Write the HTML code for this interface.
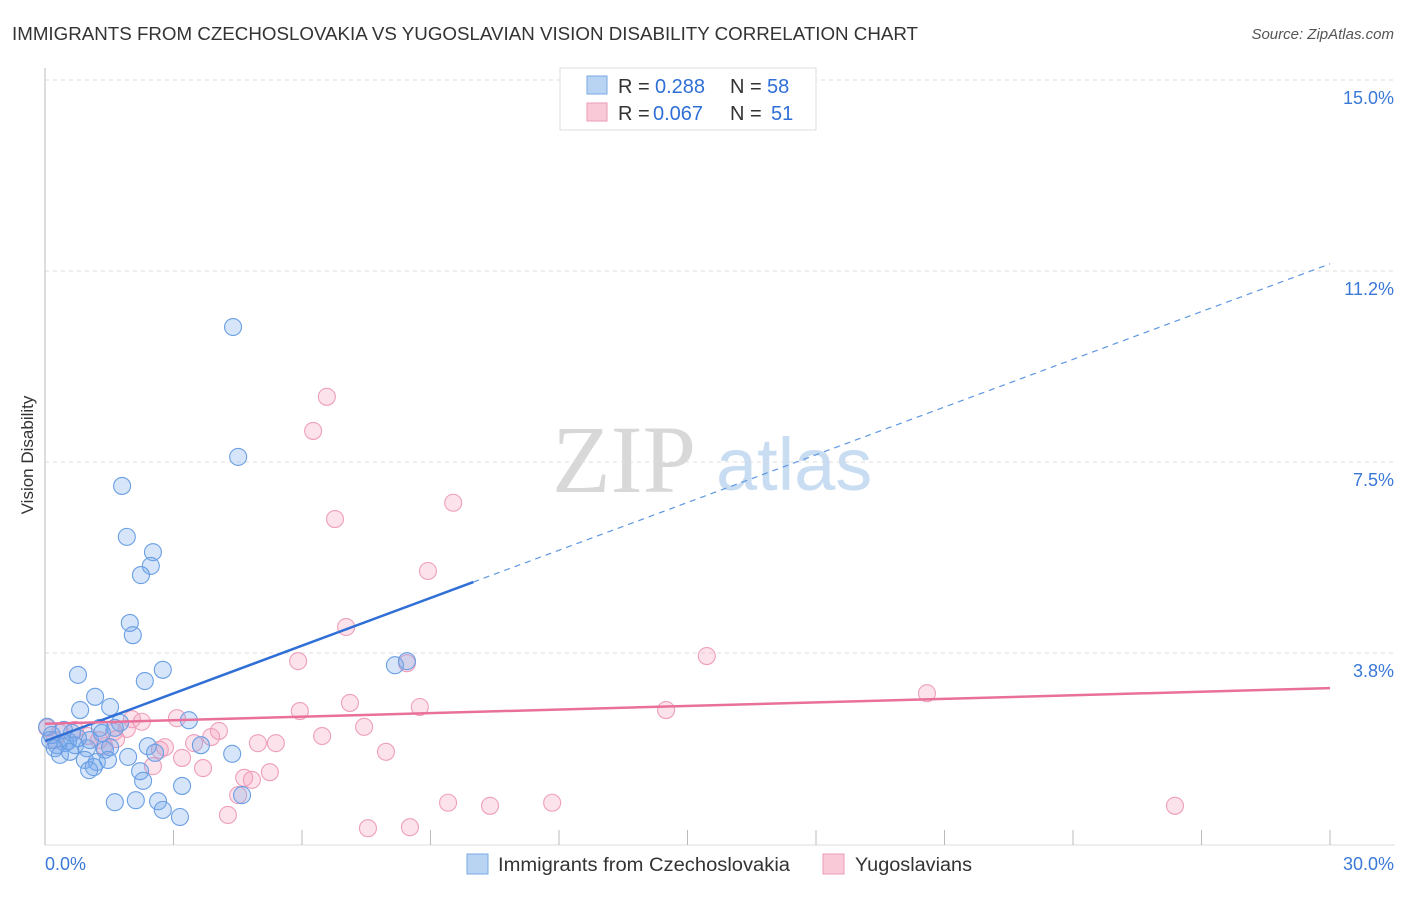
<!DOCTYPE html>
<html><head><meta charset="utf-8"><style>
body{margin:0;background:#fff;font-family:"Liberation Sans",sans-serif}
#c{position:relative;width:1406px;height:892px}
</style></head><body>
<div id="c">
<svg id="s" width="1406" height="892" xmlns="http://www.w3.org/2000/svg" font-family="Liberation Sans, sans-serif">
<text x="12" y="40" font-size="18" fill="#333" textLength="906" lengthAdjust="spacingAndGlyphs">IMMIGRANTS FROM CZECHOSLOVAKIA VS YUGOSLAVIAN VISION DISABILITY CORRELATION CHART</text>
<text x="1394" y="39" font-size="15" fill="#555" font-style="italic" text-anchor="end">Source: ZipAtlas.com</text>
<text transform="translate(33,455) rotate(-90)" font-size="17" fill="#333" text-anchor="middle">Vision Disability</text>
<g><text x="552" y="492" font-size="96" font-family="Liberation Serif, serif" fill="#d8d8d8">ZIP</text><text x="716" y="490" font-size="74" fill="#c8dcf2">atlas</text></g>
<g id="grid"></g><g id="pts"></g><g id="lines"></g>
<g>
<rect x="560" y="68" width="256" height="62" fill="#fff" stroke="#ddd"/>
<rect x="587" y="76" width="20" height="18" fill="#b9d3f3" stroke="#7aaae6"/>
<rect x="587" y="103" width="20" height="18" fill="#f9c9d8" stroke="#eb9ab6"/>
<text x="618" y="93" font-size="20" fill="#333">R =</text><text x="655" y="93" font-size="20" fill="#2f6fd6">0.288</text>
<text x="730" y="93" font-size="20" fill="#333">N =</text><text x="767" y="93" font-size="20" fill="#2f6fd6">58</text>
<text x="618" y="120" font-size="20" fill="#333">R =</text><text x="653" y="120" font-size="20" fill="#2f6fd6">0.067</text>
<text x="730" y="120" font-size="20" fill="#333">N =</text><text x="771" y="120" font-size="20" fill="#2f6fd6">51</text>
</g>
<g>
<rect x="467" y="854" width="21" height="20" fill="#b9d3f3" stroke="#7aaae6"/>
<text x="498" y="871" font-size="19" fill="#333" textLength="292" lengthAdjust="spacingAndGlyphs">Immigrants from Czechoslovakia</text>
<rect x="823" y="854" width="21" height="20" fill="#f9c9d8" stroke="#eb9ab6"/>
<text x="855" y="871" font-size="19" fill="#333" textLength="117" lengthAdjust="spacingAndGlyphs">Yugoslavians</text>
</g>
<text x="45" y="870" font-size="18" fill="#3a78d8">0.0%</text>
<text x="1394" y="870" font-size="18" fill="#3a78d8" text-anchor="end">30.0%</text>
</svg></div>
<script>
const yTicks=[15,11.25,7.5,3.75];
const yTickLabels=["15.0%","11.2%","7.5%","3.8%"];
const blueX=[4.39,4.51,1.80,1.91,2.52,2.47,2.24,1.98,2.05,2.75,2.33,0.77,1.17,0.82,1.52,3.36,1.75,1.28,0.44,0.63,0.12,0.28,0.47,0.70,0.98,1.40,1.52,2.40,2.57,3.64,4.37,1.94,1.21,1.47,0.93,1.14,1.03,2.22,2.29,3.20,4.60,1.63,2.12,2.64,2.75,3.15,8.17,8.45,0.23,0.35,0.54,0.05,0.16,0.58,1.05,1.63,1.33,0.77];
const blueY=[10.15,7.60,7.03,6.03,5.73,5.46,5.28,4.34,4.10,3.42,3.20,3.32,2.89,2.63,2.69,2.43,2.38,2.28,2.24,2.18,2.04,1.94,1.98,1.94,1.88,1.85,1.90,1.92,1.79,1.94,1.77,1.71,1.61,1.65,1.65,1.51,1.45,1.43,1.24,1.14,0.96,0.82,0.86,0.84,0.67,0.53,3.51,3.59,1.88,1.75,2.02,2.30,2.14,1.81,2.04,2.28,2.18,2.08];
const pinkX=[6.58,6.26,6.77,9.53,8.94,7.03,5.91,8.45,15.45,20.59,14.50,7.12,5.95,8.75,6.47,7.45,7.96,4.97,5.39,4.06,3.88,3.48,3.08,2.80,2.68,2.26,1.91,1.61,1.38,1.66,1.26,2.03,2.52,3.20,3.69,5.25,4.65,4.83,4.51,4.27,9.41,10.39,11.84,26.38,7.54,8.52,0.05,0.35,0.70,1.00,0.23];
const pinkY=[8.78,8.11,6.38,6.70,5.36,4.26,3.59,3.55,3.69,2.96,2.63,2.77,2.61,2.69,2.12,2.30,1.81,1.98,1.98,2.22,2.10,1.98,2.47,1.90,1.85,2.40,2.26,2.20,1.92,2.06,2.04,2.45,1.53,1.69,1.49,1.41,1.30,1.26,0.96,0.57,0.81,0.75,0.81,0.75,0.31,0.33,2.28,2.18,2.24,2.12,2.04];
const blueTrend=[2.02,11.39], blueSolidEnd=10;
const pinkTrend=[2.36,3.06];
const NS="http://www.w3.org/2000/svg";
const X=v=>45+v/30*1285, Y=v=>844-v/15*764;
function mk(t,a,p){const e=document.createElementNS(NS,t);for(const k in a)e.setAttribute(k,a[k]);p.appendChild(e);return e;}
const grid=document.getElementById('grid');
yTicks.forEach((t,i)=>{
 const l=mk('line',{x1:45,x2:1395,y1:Y(t),y2:Y(t),stroke:'#ddd','stroke-dasharray':'4,4'},grid);
 
 
 const tx=mk('text',{x:1394,y:Y(t)+24,'font-size':18,fill:'#3a78d8','text-anchor':'end'},grid);
 tx.textContent=yTickLabels[i];
 
 
});
mk('line',{x1:45,x2:45,y1:68,y2:845,stroke:'#bbb'},grid);
mk('line',{x1:45,x2:1395,y1:845,y2:845,stroke:'#ddd'},grid);
for(let i=0;i<=10;i++){const t=mk('line',{x1:X(i*3),x2:X(i*3),y1:830,y2:845,stroke:'#bbb'},grid);
 
 }
const pts=document.getElementById('pts');
pinkX.forEach((v,i)=>{const c=mk('circle',{cx:X(v),cy:Y(pinkY[i]),r:8.5,fill:'rgba(245,160,190,0.3)',stroke:'#ee9fbb','stroke-width':1.1},pts);
 
 });
blueX.forEach((v,i)=>{const c=mk('circle',{cx:X(v),cy:Y(blueY[i]),r:8.5,fill:'rgba(120,170,235,0.3)',stroke:'#6a9fe4','stroke-width':1.1},pts);
 
 });
const ln=document.getElementById('lines');
const by=x=>blueTrend[0]+(blueTrend[1]-blueTrend[0])*x/30;
let a=mk('line',{x1:X(0),y1:Y(by(0)),x2:X(blueSolidEnd),y2:Y(by(blueSolidEnd)),stroke:'#2f6fd6','stroke-width':2.5},ln);


a=mk('line',{x1:X(blueSolidEnd),y1:Y(by(blueSolidEnd)),x2:X(30),y2:Y(by(30)),stroke:'#5d97e2','stroke-width':1.2,'stroke-dasharray':'6,5'},ln);


a=mk('line',{x1:X(0),y1:Y(pinkTrend[0]),x2:X(30),y2:Y(pinkTrend[1]),stroke:'#e8709a','stroke-width':2.5},ln);


</script>
</body></html>
